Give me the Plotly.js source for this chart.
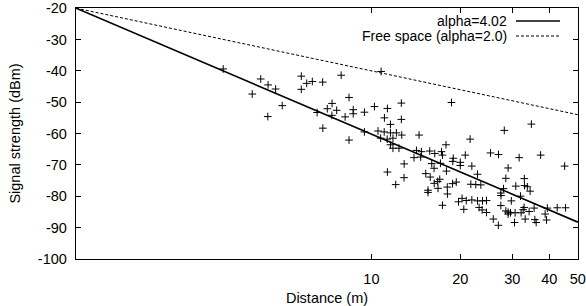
<!DOCTYPE html>
<html>
<head>
<meta charset="utf-8">
<script src="https://cdn.plot.ly/plotly-3.0.1.min.js"></script>
<style>html,body{margin:0;padding:0;background:#fff;}#chart{width:586px;height:306px;}</style>
</head>
<body>
<div id="chart"></div>
<script>
// Measured samples: distance (m) and signal strength (dBm)
var measDistance = [
  3.15, 3.95, 4.22, 4.47, 4.74, 4.99, 4.46, 5.79, 6.04, 6.31, 6.84, 5.79, 7.90, 8.40,
  7.36, 7.09, 7.63, 6.55, 7.35, 8.15, 8.68, 8.68, 9.47, 10.24, 6.85, 8.40, 9.47, 10.79,
  11.33, 12.63, 18.67, 11.07, 12.63, 11.60, 10.53, 11.05, 11.60, 12.15, 12.67, 10.75,
  11.31, 11.83, 14.50, 11.60, 11.83, 12.40, 21.59, 17.89, 14.21, 14.77, 15.76, 16.39,
  17.27, 17.40, 13.94, 14.69, 18.93, 18.86, 20.00, 20.00, 20.79, 16.01, 17.13, 12.91,
  21.88, 16.30, 17.95, 11.33, 15.28, 15.82, 17.04, 16.77, 16.32, 12.90, 12.09, 18.82,
  19.38, 21.71, 22.57, 23.47, 16.81, 18.07, 15.55, 15.55, 18.09, 20.28, 19.72, 20.95,
  21.88, 17.40, 20.55,
  28.18, 34.80, 25.31, 26.94, 31.64, 37.41, 29.03, 45.11, 22.87, 28.52, 32.94, 28.01,
  30.83, 33.00, 33.73, 34.46, 27.43, 27.46, 31.98, 29.77, 22.87, 23.78, 24.53, 27.43,
  23.16, 23.71, 24.53, 32.89, 35.56, 39.42, 42.56, 45.43, 28.52, 29.03, 29.03, 29.58,
  30.66, 32.13, 32.64, 34.20, 38.75, 25.86, 26.90, 30.52, 33.16, 35.76, 36.13, 39.17
];
var measSignal = [
  -39.4, -47.4, -42.6, -44.5, -45.8, -51.1, -54.6, -41.7, -44.0, -43.4, -43.6, -45.9, -41.4, -48.5,
  -50.4, -52.1, -52.6, -53.3, -54.2, -54.7, -52.4, -53.7, -53.2, -51.4, -58.3, -62.1, -59.5, -40.2,
  -52.0, -50.3, -50.1, -55.0, -55.5, -57.1, -59.2, -59.5, -59.8, -59.8, -60.5, -61.5,
  -61.8, -61.5, -60.5, -63.6, -64.7, -64.7, -61.8, -63.6, -65.4, -65.8, -65.6, -66.4,
  -65.8, -66.9, -67.7, -67.5, -67.9, -68.9, -69.2, -70.2, -66.9, -69.6, -69.5, -69.7,
  -70.4, -71.1, -72.0, -72.3, -72.8, -73.9, -74.6, -75.3, -75.9, -74.1, -76.3, -76.0,
  -75.5, -76.2, -76.3, -76.4, -77.5, -77.1, -78.1, -78.8, -79.3, -80.7, -81.8, -81.4,
  -81.2, -82.9, -84.2,
  -59.0, -57.0, -66.2, -66.7, -67.7, -66.9, -71.0, -70.4, -73.0, -74.3, -74.4, -77.6,
  -76.8, -76.6, -77.0, -78.4, -79.0, -79.8, -80.0, -81.5, -81.5, -81.5, -81.4, -83.0,
  -83.6, -84.4, -85.2, -83.6, -83.8, -83.8, -83.7, -83.7, -84.7, -85.1, -85.7, -85.3,
  -85.3, -85.3, -84.3, -84.9, -85.7, -87.3, -89.3, -88.4, -87.3, -87.5, -88.4, -87.6
];
// Model lines (end points)
var modelDistance = [1, 50];
var alphaFitSignal = [-20, -88.3];
var freeSpaceSignal = [-20, -54.0];
var legendNames = ["alpha=4.02", "Free space (alpha=2.0)"];
var xTickVals = [10, 20, 30, 40, 50];
var xTickText = ["10", "20", "30", "40", "50"];
var yTickVals = [-100, -90, -80, -70, -60, -50, -40, -30, -20];
var yTickText = ["-100", "-90", "-80", "-70", "-60", "-50", "-40", "-30", "-20"];

var FONT = "Liberation Sans, Arial, Helvetica, sans-serif";
var FS = 14.5;

var traces = [
  {x: measDistance, y: measSignal, type: "scatter", mode: "markers", showlegend: false,
   marker: {symbol: "cross-thin", size: 5.5, color: "#000", line: {width: 1, color: "#000"}}},
  {x: modelDistance, y: alphaFitSignal, type: "scatter", mode: "lines", name: legendNames[0],
   showlegend: false, line: {color: "#000", width: 1.6}},
  {x: modelDistance, y: freeSpaceSignal, type: "scatter", mode: "lines", name: legendNames[1],
   showlegend: false, line: {color: "#000", width: 1, dash: "3px,2px"}}
];

var layout = {
  width: 586, height: 306,
  margin: {l: 76, r: 8, t: 8, b: 47},
  paper_bgcolor: "#fff", plot_bgcolor: "#fff",
  font: {family: FONT, size: FS, color: "#000"},
  xaxis: {
    type: "log", range: [0, Math.log10(50) + 0.0005],
    tickmode: "array", tickvals: xTickVals, ticktext: xTickText,
    ticks: "inside", ticklen: 5, tickcolor: "#000", tickwidth: 1,
    showline: true, linecolor: "#000", linewidth: 1.2, mirror: "ticks",
    showgrid: false, zeroline: false,
    ticklabelstandoff: 6,
    tickfont: {family: FONT, size: FS},
    title: {text: "Distance (m)", font: {family: FONT, size: FS}, standoff: 7}
  },
  yaxis: {
    range: [-100.05, -19.95],
    tickmode: "array", tickvals: yTickVals, ticktext: yTickText,
    ticks: "inside", ticklen: 5, tickcolor: "#000", tickwidth: 1,
    showline: true, linecolor: "#000", linewidth: 1.2, mirror: "ticks",
    showgrid: false, zeroline: false,
    ticklabelstandoff: 5,
    tickfont: {family: FONT, size: FS},
    title: {text: "Signal strength (dBm)", font: {family: FONT, size: FS}, standoff: 13}
  },
  annotations: [
    {xref: "paper", yref: "paper", x: 0.8612, y: 0.9482, xanchor: "right", yanchor: "middle",
     text: legendNames[0], showarrow: false, borderpad: 0, font: {family: FONT, size: 14}},
    {xref: "paper", yref: "paper", x: 0.8612, y: 0.8884, xanchor: "right", yanchor: "middle",
     text: legendNames[1], showarrow: false, borderpad: 0, font: {family: FONT, size: 14}}
  ],
  shapes: [
    {type: "line", xref: "paper", yref: "paper", x0: 0.8765, x1: 0.9641, y0: 0.9482, y1: 0.9482,
     line: {color: "#000", width: 1.6}},
    {type: "line", xref: "paper", yref: "paper", x0: 0.8765, x1: 0.9641, y0: 0.8884, y1: 0.8884,
     line: {color: "#000", width: 1, dash: "3px,2px"}}
  ]
};

Plotly.newPlot("chart", traces, layout, {staticPlot: true, displayModeBar: false});
</script>
</body>
</html>
